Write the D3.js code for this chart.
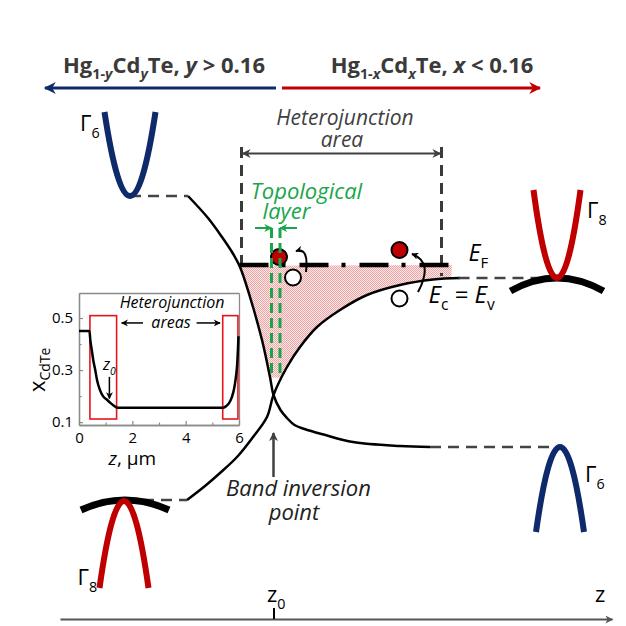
<!DOCTYPE html>
<html>
<head>
<meta charset="utf-8">
<script src="https://cdn.jsdelivr.net/npm/d3@7"></script>
<style>
  body { margin: 0; background: #fff; }
  svg { display: block; }
  text { font-family: "Open Sans", sans-serif; }
</style>
</head>
<body>
<div id="chart"></div>
<script>
// main diagram: z counted from z0, energy from the band inversion point (arbitrary units)
var curveA = [[-1.71, 3.98], [-1.31, 3.54], [-1.03, 3.16], [-0.83, 2.86], [-0.67, 2.56], [-0.47, 1.96],
  [-0.23, 1.10], [-0.07, 0.36], [0, 0], [0.14, -0.3], [0.27, -0.46], [0.42, -0.6], [0.62, -0.68],
  [1.0, -0.79], [1.59, -0.94], [2.53, -1.02], [3.13, -1.04]];
var curveB = [[-1.73, -2.1], [-1.37, -1.82], [-1.07, -1.56], [-0.73, -1.24], [-0.41, -0.84], [-0.13, -0.44],
  [0, 0], [0.27, 0.56], [0.53, 0.96], [0.87, 1.36], [1.33, 1.70], [1.87, 2.00], [2.53, 2.20],
  [3.19, 2.31], [3.73, 2.34]];

// heavy/electron bands: Γ6 left, Γ8 left, Γ6 right, Γ8 right
var bandNames = ["6", "8", "6", "8"];
var bandVertexZ = [-2.87, -2.99, 5.73, 5.67];
var bandVertexE = [3.98, -2.12, -1.04, 2.34];
var bandHalfWidth = [0.51, 0.49, 0.48, 0.47];
var bandEndE = [5.66, -3.86, -2.74, 4.1];
var gammaLabelZ = [-3.87, -3.92, 6.23, 6.27];
var gammaLabelE = [5.28, -3.8, -1.74, 3.54];

// flat light-hole arcs (left, right)
var lhVertexZ = [-2.97, 5.67];
var lhVertexE = [-2.1, 2.34];
var lhHalfWidth = [0.88, 0.93];
var lhEndE = [-2.3, 2.08];

// dashed band-edge levels
var levelE = [3.98, -2.1, -1.04, 2.34];
var levelFromZ = [-2.87, -2.97, 3.13, 3.7];
var levelToZ = [-1.71, -1.73, 5.73, 5.5];

var fermiE = 2.6;
var fermiZ = [-0.68, 3.5];
var fillEdgeZ = 3.57;
var fillBottomE = 0.34;
var heteroZ = [-0.64, 3.36];
var heteroTopE = 4.9, heteroArrowE = 4.83;
var heteroBottomE = [2.6, 2.38];
var topoZ = [-0.04, 0.13];
var topoE = [3.34, 0.34];
var topoArrowZ = [-0.37, 0.47];
var electronZ = [0.11, 2.52], electronE = [2.76, 2.9];
var holeZ = [0.39, 2.52], holeE = [2.35, 1.93];
var hopStart = [[0.65, 2.46], [2.89, 2.06]];
var hopCtrl = [[0.71, 2.96], [3.21, 2.66]];
var hopEnd = [[0.45, 2.88], [2.77, 2.82]];
var inversionArrowE = [-1.64, -0.76];
var zAxisExtent = [-4.27, 6.77];
var zAxisE = -4.48;
var sideArrowE = 6.14;
var leftArrowZ = [0.05, -4.57];
var rightArrowZ = [0.17, 5.33];

// inset: CdTe fraction along z (um)
var insetZ = [0, 0.39, 0.43, 0.475, 0.54, 0.6, 0.68, 0.78, 0.9, 1.05, 1.2, 1.35, 1.45,
  5.4, 5.5, 5.62, 5.73, 5.82, 5.88, 5.93, 5.96, 5.98];
var insetX = [0.45, 0.45, 0.41, 0.38, 0.335, 0.305, 0.26, 0.225, 0.2, 0.186, 0.172, 0.16, 0.155,
  0.155, 0.16, 0.172, 0.195, 0.23, 0.27, 0.32, 0.38, 0.43];
var heteroBoxZ = [[0.41, 1.41], [5.39, 5.96]];
var heteroBoxX = [0.112, 0.509];
var insetTicksZ = [0, 2, 4, 6], insetMinorZ = [1, 3, 5];
var insetTicksX = [0.1, 0.3, 0.5], insetMinorX = [0.2, 0.4];

var svg = d3.select("#chart").append("svg").attr("width", 626).attr("height", 626);
var x = d3.scaleLinear().domain([-5, 7]).range([23.5, 623.5]);
var y = d3.scaleLinear().domain([-5, 7]).range([645, 45]);

var defs = svg.append("defs");
function marker(id, color, w, h) {
  defs.append("marker").attr("id", id)
    .attr("viewBox", "0 0 10 10").attr("refX", 9).attr("refY", 5)
    .attr("markerWidth", w).attr("markerHeight", h)
    .attr("markerUnits", "userSpaceOnUse")
    .attr("orient", "auto-start-reverse")
    .append("path").attr("d", "M0,0 L10,5 L0,10 L3,5 Z").attr("fill", color);
}
marker("headBlue", "#0f2a6b", 16, 12);
marker("headRed", "#c00000", 16, 12);
marker("headGray", "#404040", 12, 9);
marker("headGreen", "#19a64a", 8, 8);
marker("headAxis", "#555", 12, 8);
marker("headSmall", "#000", 9, 7);

var pat = defs.append("pattern").attr("id", "pink").attr("width", 2).attr("height", 2)
  .attr("patternUnits", "userSpaceOnUse");
pat.append("rect").attr("width", 2).attr("height", 2).attr("fill", "#fce9e9");
pat.append("rect").attr("width", 1).attr("height", 1).attr("fill", "#eba3a3");
pat.append("rect").attr("x", 1).attr("y", 1).attr("width", 1).attr("height", 1).attr("fill", "#eba3a3");

// text with sub-scripts; parts = [{t, sub, i}]
function rich(parent, px, py, parts, size, anchor, color, weight) {
  var t = parent.append("text").attr("x", px).attr("y", py)
    .attr("font-size", size).attr("text-anchor", anchor || "start")
    .attr("fill", color || "#000");
  if (weight) t.attr("font-weight", weight);
  var shift = 0;
  parts.forEach(function(p) {
    var target = p.sub ? size * 0.3 : 0;
    var ts = t.append("tspan").text(p.t).attr("dy", target - shift);
    shift = target;
    if (p.sub) ts.attr("font-size", size * 0.65);
    if (p.i) ts.attr("font-style", "italic");
  });
  return t;
}

// top arrows and material labels
svg.append("line")
  .attr("x1", x(leftArrowZ[0])).attr("x2", x(leftArrowZ[1]))
  .attr("y1", y(sideArrowE)).attr("y2", y(sideArrowE))
  .attr("stroke", "#0f2a6b").attr("stroke-width", 3).attr("marker-end", "url(#headBlue)");
svg.append("line")
  .attr("x1", x(rightArrowZ[0])).attr("x2", x(rightArrowZ[1]))
  .attr("y1", y(sideArrowE)).attr("y2", y(sideArrowE))
  .attr("stroke", "#c00000").attr("stroke-width", 3).attr("marker-end", "url(#headRed)");
rich(svg, x(-2.19), y(6.45), [{t: "Hg"}, {t: "1-", sub: 1}, {t: "y", sub: 1, i: 1}, {t: "Cd"},
  {t: "y", sub: 1, i: 1}, {t: "Te, "}, {t: "y", i: 1}, {t: " > 0.16"}], 22, "middle", "#3a3a3a", 700);
rich(svg, x(3.17), y(6.45), [{t: "Hg"}, {t: "1-", sub: 1}, {t: "x", sub: 1, i: 1}, {t: "Cd"},
  {t: "x", sub: 1, i: 1}, {t: "Te, "}, {t: "x", i: 1}, {t: " < 0.16"}], 22, "middle", "#3a3a3a", 700);

// pink filled electron region (path set after the curves exist)
var fillPath = svg.append("path").attr("fill", "url(#pink)");

// heterojunction area markers
heteroZ.forEach(function(z, k) {
  svg.append("line").attr("x1", x(z)).attr("x2", x(z))
    .attr("y1", y(heteroTopE) - 3).attr("y2", y(heteroBottomE[k]))
    .attr("stroke", "#3a3a3a").attr("stroke-width", 3).attr("stroke-dasharray", "11,7");
});
svg.append("line")
  .attr("x1", x(heteroZ[0]) + 1).attr("x2", x(heteroZ[1]) - 1)
  .attr("y1", y(heteroArrowE)).attr("y2", y(heteroArrowE))
  .attr("stroke", "#404040").attr("stroke-width", 2)
  .attr("marker-start", "url(#headGray)").attr("marker-end", "url(#headGray)");
svg.append("text").attr("x", x(1.43)).attr("y", y(5.4)).attr("text-anchor", "middle")
  .attr("font-size", 21).attr("font-style", "italic").attr("fill", "#404040").text("Heterojunction");
svg.append("text").attr("x", x(1.37)).attr("y", y(4.96)).attr("text-anchor", "middle")
  .attr("font-size", 21).attr("font-style", "italic").attr("fill", "#404040").text("area");

// band curves through the junction
var lineGen = d3.line().x(function(d) { return x(d[0]); }).y(function(d) { return y(d[1]); })
  .curve(d3.curveCatmullRom.alpha(0.5));
var pathA = svg.append("path").datum(curveA).attr("d", lineGen)
  .attr("fill", "none").attr("stroke", "#000").attr("stroke-width", 2.5);
var pathB = svg.append("path").datum(curveB).attr("d", lineGen)
  .attr("fill", "none").attr("stroke", "#000").attr("stroke-width", 2.5);

function sample(node) {
  var len = node.getTotalLength(), pts = [];
  for (var s = 0; s <= len; s += 1) {
    var p = node.getPointAtLength(s);
    pts.push([p.x, p.y]);
  }
  return pts;
}
var yF = y(fermiE), xC = x(0), yBot = y(fillBottomE), xR = x(fillEdgeZ);
var ptsA = sample(pathA.node()).filter(function(p) { return p[1] >= yF && p[1] <= yBot; });
var ptsB = sample(pathB.node()).filter(function(p) { return p[0] >= xC && p[0] <= xR && p[1] <= yBot; });
var poly = ptsA.concat(ptsB, [[xR, yF]]);
fillPath.attr("d", d3.line()(poly) + "Z");

// dashed band-edge levels
levelE.forEach(function(e, k) {
  svg.append("line").attr("x1", x(levelFromZ[k])).attr("x2", x(levelToZ[k]))
    .attr("y1", y(e)).attr("y2", y(e))
    .attr("stroke", "#444").attr("stroke-width", 2.5).attr("stroke-dasharray", "11,7");
});

// parabolic bands
function parab(vz, ve, hw, ee) {
  var p = d3.path();
  p.moveTo(x(vz - hw), y(ee));
  p.quadraticCurveTo(x(vz), 2 * y(ve) - y(ee), x(vz + hw), y(ee));
  return p.toString();
}
lhVertexZ.forEach(function(z, k) {
  svg.append("path").attr("d", parab(z, lhVertexE[k], lhHalfWidth[k], lhEndE[k]))
    .attr("fill", "none").attr("stroke", "#000").attr("stroke-width", 7);
});
bandVertexZ.forEach(function(z, k) {
  svg.append("path").attr("d", parab(z, bandVertexE[k], bandHalfWidth[k], bandEndE[k]))
    .attr("fill", "none").attr("stroke", bandNames[k] === "6" ? "#0f2a6b" : "#c00000")
    .attr("stroke-width", 6);
  rich(svg, x(gammaLabelZ[k]), y(gammaLabelE[k]), [{t: "Γ"}, {t: bandNames[k], sub: 1}], 22, "start", "#000");
});

// Fermi level
svg.append("line").attr("x1", x(fermiZ[0])).attr("x2", x(fermiZ[1]))
  .attr("y1", yF).attr("y2", yF)
  .attr("stroke", "#000").attr("stroke-width", 4.5).attr("stroke-dasharray", "29,13,4,14");
rich(svg, x(3.9), y(2.68), [{t: "E", i: 1}, {t: "F", sub: 1}], 23, "start", "#000");
rich(svg, x(3.1), y(1.84), [{t: "E", i: 1}, {t: "c", sub: 1}, {t: " = "}, {t: "E", i: 1}, {t: "v", sub: 1}], 24, "start", "#000");

// electrons, holes and transitions
electronZ.forEach(function(z, k) {
  svg.append("circle").attr("cx", x(z)).attr("cy", y(electronE[k])).attr("r", 8)
    .attr("fill", "#c00000").attr("stroke", "#000").attr("stroke-width", 2);
});
holeZ.forEach(function(z, k) {
  svg.append("circle").attr("cx", x(z)).attr("cy", y(holeE[k])).attr("r", 8)
    .attr("fill", "#fff").attr("stroke", "#000").attr("stroke-width", 2);
});
hopStart.forEach(function(s, k) {
  var p = d3.path();
  p.moveTo(x(s[0]), y(s[1]));
  p.quadraticCurveTo(x(hopCtrl[k][0]), y(hopCtrl[k][1]), x(hopEnd[k][0]), y(hopEnd[k][1]));
  svg.append("path").attr("d", p.toString()).attr("fill", "none")
    .attr("stroke", "#000").attr("stroke-width", 2).attr("marker-end", "url(#headSmall)");
});

// topological layer
topoZ.forEach(function(z) {
  svg.append("line").attr("x1", x(z)).attr("x2", x(z))
    .attr("y1", y(topoE[0])).attr("y2", y(topoE[1]))
    .attr("stroke", "#19a64a").attr("stroke-width", 3).attr("stroke-dasharray", "10,5");
});
svg.append("line").attr("x1", x(topoArrowZ[0])).attr("x2", x(topoZ[0]))
  .attr("y1", y(topoE[0])).attr("y2", y(topoE[0]))
  .attr("stroke", "#19a64a").attr("stroke-width", 2).attr("marker-end", "url(#headGreen)");
svg.append("line").attr("x1", x(topoArrowZ[1])).attr("x2", x(topoZ[1]))
  .attr("y1", y(topoE[0])).attr("y2", y(topoE[0]))
  .attr("stroke", "#19a64a").attr("stroke-width", 2).attr("marker-end", "url(#headGreen)");
svg.append("text").attr("x", x(0.66)).attr("y", y(3.92)).attr("text-anchor", "middle")
  .attr("font-size", 22).attr("font-style", "italic").attr("fill", "#19a64a").text("Topological");
svg.append("text").attr("x", x(0.26)).attr("y", y(3.52)).attr("text-anchor", "middle")
  .attr("font-size", 22).attr("font-style", "italic").attr("fill", "#19a64a").text("layer");

// band inversion point
svg.append("line").attr("x1", x(0)).attr("x2", x(0))
  .attr("y1", y(inversionArrowE[0])).attr("y2", y(inversionArrowE[1]))
  .attr("stroke", "#404040").attr("stroke-width", 2.5).attr("marker-end", "url(#headGray)");
svg.append("text").attr("x", x(0.5)).attr("y", y(-2.02)).attr("text-anchor", "middle")
  .attr("font-size", 22).attr("font-style", "italic").attr("fill", "#222").text("Band inversion");
svg.append("text").attr("x", x(0.41)).attr("y", y(-2.5)).attr("text-anchor", "middle")
  .attr("font-size", 22).attr("font-style", "italic").attr("fill", "#222").text("point");

// z axis
var zAxisScale = d3.scaleLinear().domain(zAxisExtent).range(zAxisExtent.map(x));
var axisG = svg.append("g").attr("transform", "translate(0," + y(zAxisE) + ")")
  .call(d3.axisBottom(zAxisScale).tickValues([0]).tickSizeInner(-11).tickSizeOuter(0).tickFormat(""));
axisG.select(".domain").attr("stroke", "#555").attr("stroke-width", 2).attr("marker-end", "url(#headAxis)");
axisG.selectAll(".tick line").attr("stroke", "#000").attr("stroke-width", 2);
rich(svg, x(-0.13), y(-4.14), [{t: "z"}, {t: "0", sub: 1}], 22, "start", "#000");
svg.append("text").attr("x", x(6.43)).attr("y", y(-4.14)).attr("font-size", 22).text("z");

// inset
var ix = d3.scaleLinear().domain([0, 6]).range([79, 239]);
var iy = d3.scaleLinear().domain([0.089, 0.596]).range([425, 293]);
var inset = svg.append("g");
inset.append("rect").attr("x", ix(0)).attr("y", iy(0.596)).attr("width", ix(6) - ix(0))
  .attr("height", iy(0.089) - iy(0.596)).attr("fill", "#fff");

function styleAxis(g) {
  g.select(".domain").attr("stroke", "#8a8a8a").attr("stroke-width", 1.3);
  g.selectAll(".tick line").attr("stroke", "#8a8a8a").attr("stroke-width", 1.2);
  g.selectAll("text").attr("font-family", "Liberation Sans, Arial, sans-serif")
    .attr("font-size", 15).attr("fill", "#000");
}
inset.append("g").attr("transform", "translate(0," + iy(0.089) + ")")
  .call(d3.axisBottom(ix).tickValues(insetTicksZ).tickSizeInner(-4).tickSizeOuter(0).tickPadding(7)
    .tickFormat(d3.format("d"))).call(styleAxis);
inset.append("g").attr("transform", "translate(0," + iy(0.089) + ")")
  .call(d3.axisBottom(ix).tickValues(insetMinorZ).tickSizeInner(-2.5).tickSizeOuter(0).tickFormat(""))
  .call(styleAxis);
inset.append("g").attr("transform", "translate(" + ix(0) + ",0)")
  .call(d3.axisLeft(iy).tickValues(insetTicksX).tickSizeInner(-4).tickSizeOuter(0).tickPadding(6)
    .tickFormat(d3.format(".1f"))).call(styleAxis);
inset.append("g").attr("transform", "translate(" + ix(0) + ",0)")
  .call(d3.axisLeft(iy).tickValues(insetMinorX).tickSizeInner(-2.5).tickSizeOuter(0).tickFormat(""))
  .call(styleAxis);
inset.append("g").attr("transform", "translate(0," + iy(0.596) + ")")
  .call(d3.axisTop(ix).tickValues([]).tickSizeOuter(0)).call(styleAxis);
inset.append("g").attr("transform", "translate(" + ix(6) + ",0)")
  .call(d3.axisRight(iy).tickValues([]).tickSizeOuter(0)).call(styleAxis);

heteroBoxZ.forEach(function(b) {
  inset.append("rect").attr("x", ix(b[0])).attr("y", iy(heteroBoxX[1]))
    .attr("width", ix(b[1]) - ix(b[0])).attr("height", iy(heteroBoxX[0]) - iy(heteroBoxX[1]))
    .attr("fill", "none").attr("stroke", "#e8141b").attr("stroke-width", 1.6);
});
inset.append("path").datum(d3.zip(insetZ, insetX))
  .attr("d", d3.line().x(function(d) { return ix(d[0]); }).y(function(d) { return iy(d[1]); })
    .curve(d3.curveMonotoneX))
  .attr("fill", "none").attr("stroke", "#000").attr("stroke-width", 2.5);

var insetFont = "Liberation Sans, Arial, sans-serif";
inset.append("text").attr("x", ix(3.49)).attr("y", iy(0.538)).attr("text-anchor", "middle")
  .attr("font-family", insetFont).attr("font-size", 16).attr("font-style", "italic").text("Heterojunction");
inset.append("text").attr("x", ix(3.45)).attr("y", iy(0.463)).attr("text-anchor", "middle")
  .attr("font-family", insetFont).attr("font-size", 16).attr("font-style", "italic").text("areas");
inset.append("line").attr("x1", ix(2.4)).attr("x2", ix(1.6)).attr("y1", iy(0.481)).attr("y2", iy(0.481))
  .attr("stroke", "#000").attr("stroke-width", 1.5).attr("marker-end", "url(#headSmall)");
inset.append("line").attr("x1", ix(4.41)).attr("x2", ix(5.29)).attr("y1", iy(0.481)).attr("y2", iy(0.481))
  .attr("stroke", "#000").attr("stroke-width", 1.5).attr("marker-end", "url(#headSmall)");
rich(inset, ix(0.9), iy(0.3), [{t: "z", i: 1}, {t: "0", sub: 1, i: 1}], 16, "start", "#000")
  .attr("font-family", insetFont);
inset.append("line").attr("x1", ix(1.14)).attr("x2", ix(1.14)).attr("y1", iy(0.274)).attr("y2", iy(0.191))
  .attr("stroke", "#000").attr("stroke-width", 1.5).attr("marker-end", "url(#headSmall)");
rich(inset, ix(2.0), 465, [{t: "z", i: 1}, {t: ", μm"}], 19, "middle", "#000")
  .attr("font-family", insetFont);
var ylab = inset.append("text").attr("transform", "translate(45,392) rotate(-90)")
  .attr("font-family", insetFont).attr("font-size", 22);
ylab.append("tspan").text("x");
ylab.append("tspan").attr("font-size", 14).attr("dy", 5).text("CdTe");
</script>
</body>
</html>
